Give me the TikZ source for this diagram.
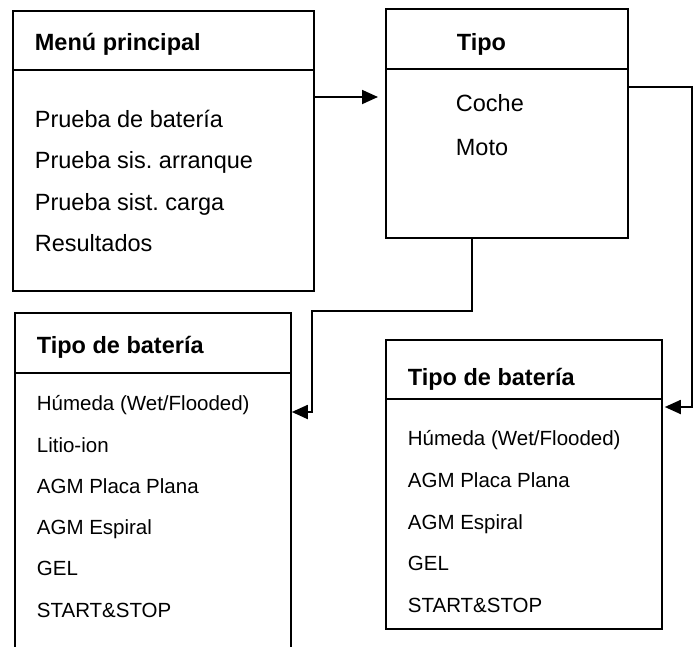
\documentclass[tikz,border=0pt]{standalone}
\usepackage{fontspec}
\setmainfont{Liberation Sans}
\usetikzlibrary{arrows.meta}
\frenchspacing
\begin{document}
\begin{tikzpicture}[x=1pt,y=-1pt,
  line width=1.8pt,
  boxshape/.style={rectangle, inner sep=0pt, anchor=north west},
  ttl/.style={font=\bfseries\fontsize{23.5}{28}\selectfont, anchor=base west, inner sep=0pt},
  itm/.style={font=\fontsize{23.5}{28}\selectfont, anchor=base west, inner sep=0pt},
  itms/.style={font=\fontsize{20.5}{24}\selectfont, anchor=base west, inner sep=0pt},
  arr/.style={-{Triangle[length=16pt,width=14pt]}, line width=1.8pt}
]
\useasboundingbox (0,0) rectangle (694,646);

% Menu principal
\node[boxshape, draw, minimum width=301pt, minimum height=280pt] (menu) at (12,10) {};
\draw (menu.west |- 0,70) -- (menu.east |- 0,70);
\node[ttl] (menut) at (34,50) {Menú principal};
\node[itm] (m1) at (34,127) {Prueba de batería};
\node[itm] (m2) at (34,168.5) {Prueba sis. arranque};
\node[itm] (m3) at (34,210) {Prueba sist. carga};
\node[itm] (m4) at (34,251.5) {Resultados};

% Tipo
\node[boxshape, draw, minimum width=242pt, minimum height=229pt] (tipo) at (385,8) {};
\draw (tipo.west |- 0,69) -- (tipo.east |- 0,69);
\node[ttl] (tipot) at (456,50) {Tipo};
\node[itm] (c1) at (455,111) {Coche};
\node[itm] (c2) at (455,155) {Moto};

% Tipo de bateria (left, open at bottom)
\node[boxshape, minimum width=274pt, minimum height=333pt] (bat1) at (15,313) {};
\draw (bat1.south west) -- (bat1.north west) -- (bat1.north east) -- (bat1.south east);
\draw (bat1.west |- 0,373) -- (bat1.east |- 0,373);
\node[ttl] (b1t) at (36,353) {Tipo de batería};
\node[itms] (b11) at (36,410) {Húmeda (Wet/Flooded)};
\node[itms] (b12) at (36,452) {Litio-ion};
\node[itms] (b13) at (36,493) {AGM Placa Plana};
\node[itms] (b14) at (36,534) {AGM Espiral};
\node[itms] (b15) at (36,575) {GEL};
\node[itms] (b16) at (36,617) {START\&STOP};

% Tipo de bateria (right)
\node[boxshape, draw, minimum width=276pt, minimum height=289pt] (bat2) at (385,339) {};
\draw (bat2.west |- 0,399) -- (bat2.east |- 0,399);
\node[ttl] (b2t) at (407,385) {Tipo de batería};
\node[itms] (b21) at (407,445) {Húmeda (Wet/Flooded)};
\node[itms] (b22) at (407,487) {AGM Placa Plana};
\node[itms] (b23) at (407,529) {AGM Espiral};
\node[itms] (b24) at (407,570) {GEL};
\node[itms] (b25) at (407,612) {START\&STOP};

% connectors
\draw[arr, shorten >=7pt] (menu.east |- 0,97) -- (tipo.west |- 0,97);
\coordinate (k1) at (472,311);
\coordinate (k2) at (312,311);
\coordinate (k3) at (312,412);
\draw[arr, shorten >=1pt] (tipo.south -| k1) -- (k1) -- (k2) -- (k3) -- (bat1.east |- k3);
\coordinate (r1) at (692,87);
\coordinate (r2) at (692,407);
\draw[arr, shorten >=2pt] (tipo.east |- r1) -- (r1) -- (r2) -- (bat2.east |- r2);
\end{tikzpicture}
\end{document}
